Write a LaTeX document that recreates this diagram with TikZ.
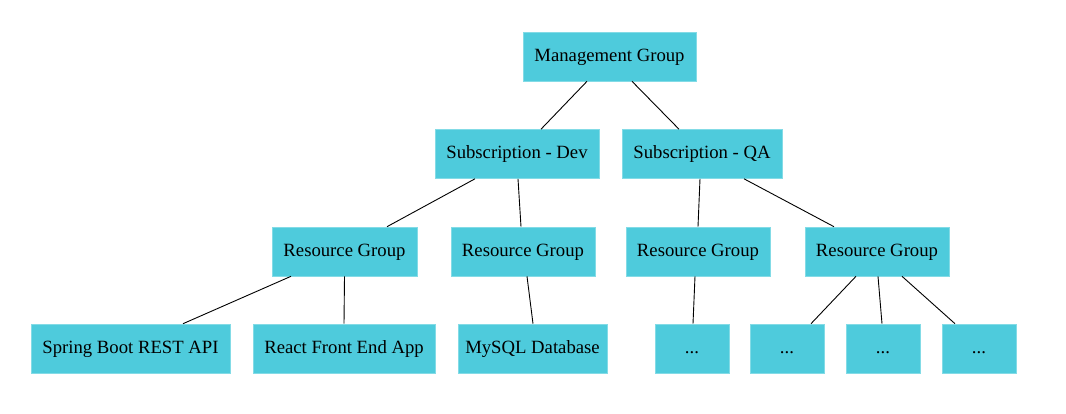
\documentclass[tikz,border=0pt]{standalone}
\usepackage{fontspec}
\setmainfont{Liberation Serif}
\definecolor{boxcyan}{HTML}{4ECBDC}
\begin{document}
\begin{tikzpicture}[x=1pt,y=-1pt,
  box/.style={fill=boxcyan, draw=boxcyan!70!white, line width=0.6pt, minimum height=49pt, inner sep=0pt, text height=13pt, text depth=4pt, font=\fontsize{18.7}{21}\selectfont},
  link/.style={draw=black, line width=0.9pt}]
\useasboundingbox (0,0) rectangle (1066,413);
\node[box, minimum width=173pt] (mg) at (609.5,56.5) {Management Group};
\node[box, minimum width=164pt] (dev) at (517,154) {Subscription - Dev};
\node[box, minimum width=160pt] (qa) at (702,154) {Subscription - QA};
\node[box, minimum width=145pt] (rg1) at (344.5,251.5) {Resource Group};
\node[box, minimum width=144pt] (rg2) at (523,251.5) {Resource Group};
\node[box, minimum width=144pt] (rg3) at (698,251.5) {Resource Group};
\node[box, minimum width=144pt] (rg4) at (877,251.5) {Resource Group};
\node[box, minimum width=199pt] (spring) at (130.5,348.5) {Spring Boot REST API};
\node[box, minimum width=182pt] (react) at (344,348.5) {React Front End App};
\node[box, minimum width=149pt] (mysql) at (532.5,348.5) {MySQL Database};
\node[box, minimum width=74pt] (d1) at (692,348.5) {...};
\node[box, minimum width=74pt] (d2) at (787,348.5) {...};
\node[box, minimum width=74pt] (d3) at (883,348.5) {...};
\node[box, minimum width=74pt] (d4) at (979,348.5) {...};
\draw[link] ([xshift=-22.5pt]mg.south) -- ([xshift=24pt]dev.north);
\draw[link] ([xshift=22.5pt]mg.south) -- ([xshift=-23pt]qa.north);
\draw[link] ([xshift=-42pt]dev.south) -- ([xshift=42.5pt]rg1.north);
\draw[link] ([xshift=1pt]dev.south) -- ([xshift=-2pt]rg2.north);
\draw[link] ([xshift=-2pt]qa.south) -- (rg3.north);
\draw[link] ([xshift=42pt]qa.south) -- ([xshift=-43pt]rg4.north);
\draw[link] ([xshift=-53.5pt]rg1.south) -- ([xshift=52.5pt]spring.north);
\draw[link] (rg1.south) -- (react.north);
\draw[link] ([xshift=4pt]rg2.south) -- ([xshift=0.5pt]mysql.north);
\draw[link] ([xshift=-3pt]rg3.south) -- ([xshift=1pt]d1.north);
\draw[link] ([xshift=-21pt]rg4.south) -- ([xshift=24pt]d2.north);
\draw[link] ([xshift=1pt]rg4.south) -- ([xshift=-1pt]d3.north);
\draw[link] ([xshift=25pt]rg4.south) -- ([xshift=-24pt]d4.north);
\end{tikzpicture}
\end{document}
